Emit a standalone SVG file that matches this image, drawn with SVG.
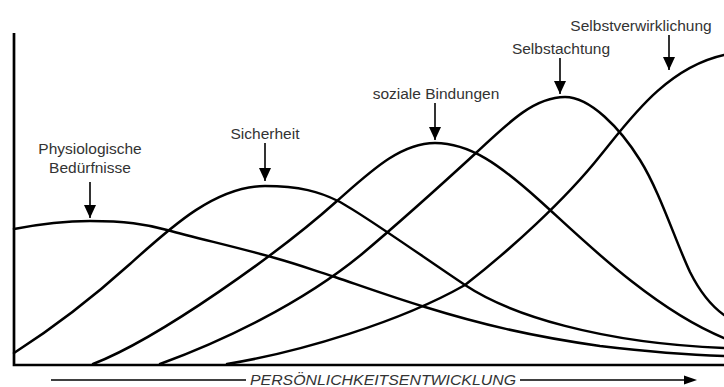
<svg xmlns="http://www.w3.org/2000/svg" width="724" height="387" viewBox="0 0 724 387">
<style>
  .curve{fill:none;stroke:#000;stroke-width:2.5;stroke-linecap:round;}
  .axis{fill:none;stroke:#000;stroke-width:2.7;}
  .stem{stroke:#000;stroke-width:1.6;}
  .lbl{font-family:"Liberation Sans",Arial,sans-serif;font-size:15.5px;fill:#333;text-anchor:middle;}
  .xlbl{font-family:"Liberation Sans",Arial,sans-serif;font-size:14px;font-style:italic;fill:#333;}
  .thin{stroke:#000;stroke-width:1.3;}
</style>
<defs>
  <marker id="ah" markerUnits="userSpaceOnUse" markerWidth="14" markerHeight="12" viewBox="0 0 14 12" refX="13" refY="6" orient="auto">
    <path d="M0,0 L13,6 L0,12 Z" fill="#000"/>
  </marker>
</defs>
<rect width="724" height="387" fill="#fff"/>
<g id="axes">
  <path class="axis" d="M14,33 V365 H724"/>
</g>
<g id="curves">
  <path id="c-physio" class="curve" d="M14,229 C45,223 65,221 90,221 C125,221 145,224 167,230 C200,239 240,248 275,258 C300,265 310,269 335,277 C370,289 395,298 425,307 C480,324 530,336 600,346 C650,352 690,355 724,356"/>
  <path id="c-sicher" class="curve" d="M14,353 C50,330 90,300 130,264 C170,228 215,186 265,186 C300,186 320,192 338,201 C360,212 420,255 465,285 C510,315 600,343 724,348"/>
  <path id="c-sozial" class="curve" d="M93,364 C160,338 280,252 337,201 C370,172 400,143 435,143 C470,143 500,165 539,200 C575,232 650,308 724,338"/>
  <path id="c-achtung" class="curve" d="M160,364 C220,342 300,305 362,254 C400,222 440,186 477,152 C510,121 535,97 565,97 C590,97 620,128 640,160 C660,192 675,240 690,272 C700,292 710,305 724,315"/>
  <path id="c-verwirk" class="curve" d="M227,364 C300,352 400,322 465,285 C510,250 565,200 600,156 C628,122 665,68 724,55"/>
</g>
<g id="label-physio">
  <text class="lbl" x="90" y="154">Physiologische</text>
  <text class="lbl" x="90" y="173">Bedürfnisse</text>
  <line class="stem" x1="90" y1="182" x2="90" y2="218" marker-end="url(#ah)"/>
</g>
<g id="label-sicher">
  <text class="lbl" x="265" y="139">Sicherheit</text>
  <line class="stem" x1="265" y1="143" x2="265" y2="181" marker-end="url(#ah)"/>
</g>
<g id="label-sozial">
  <text class="lbl" x="436" y="99">soziale Bindungen</text>
  <line class="stem" x1="435" y1="103" x2="435" y2="140" marker-end="url(#ah)"/>
</g>
<g id="label-achtung">
  <text class="lbl" x="561" y="54">Selbstachtung</text>
  <line class="stem" x1="560" y1="58" x2="560" y2="94" marker-end="url(#ah)"/>
</g>
<g id="label-verwirk">
  <text class="lbl" x="641" y="31">Selbstverwirklichung</text>
  <line class="stem" x1="669" y1="35" x2="669" y2="70" marker-end="url(#ah)"/>
</g>
<g id="x-label">
  <line class="thin" x1="51" y1="380" x2="246" y2="380"/>
  <text class="xlbl" x="250" y="384.5" textLength="266" lengthAdjust="spacingAndGlyphs">PERSÖNLICHKEITSENTWICKLUNG</text>
  <line class="thin" x1="520" y1="380" x2="686" y2="380"/>
  <path d="M684,375.5 L697,380 L684,384.5 Z" fill="#000"/>
</g>
</svg>
